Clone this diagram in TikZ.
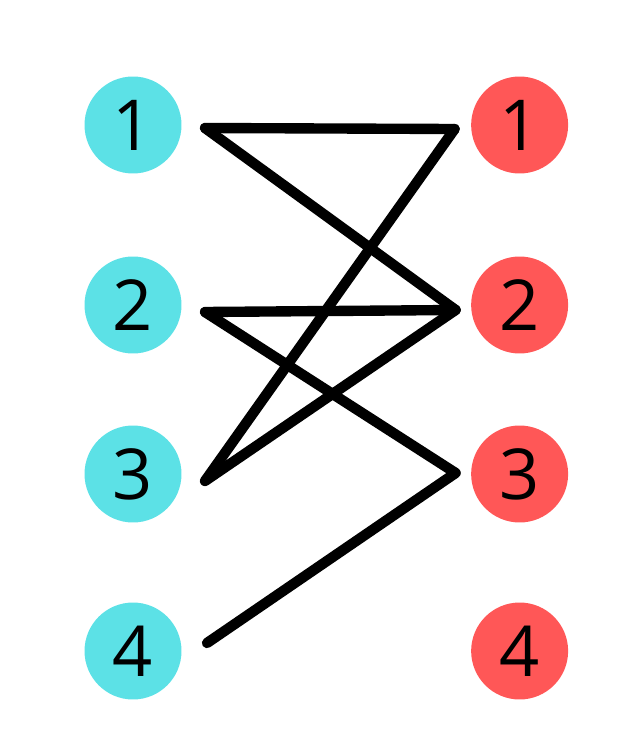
\documentclass[tikz,border=0pt]{standalone}
\usepackage{fontspec}
\setmainfont{Open Sans}
\usepackage{tikz}
\usetikzlibrary{positioning}
\definecolor{LeftColor}{HTML}{5CE1E6}
\definecolor{RightColor}{HTML}{FF5757}

\begin{document}
\begin{tikzpicture}[x=0.02cm, y=-0.02cm,
    vertex/.style={circle, minimum size=1.94cm, inner sep=0pt, font=\fontsize{40}{40}\selectfont},
    leftv/.style={vertex, fill=LeftColor},
    rightv/.style={vertex, fill=RightColor},
    edge/.style={line width=5.9pt, line cap=round, line join=round}]
  \useasboundingbox (0,0) rectangle (625,746);

  % left part
  \node[leftv] (a1) at (133,125) {1};
  \node[leftv] (a2) at (133,305) {2};
  \node[leftv] (a3) at (133,474) {3};
  \node[leftv] (a4) at (133,651) {4};

  % right part
  \node[rightv, right=5.78cm of a1] (b1) {1};
  \node[rightv, right=5.78cm of a2] (b2) {2};
  \node[rightv, right=5.78cm of a3] (b3) {3};
  \node[rightv, right=5.78cm of a4] (b4) {4};

  % edge ends
  \coordinate (a1o) at ([shift={(72,3)}]a1.center);
  \coordinate (a2o) at ([shift={(72,7)}]a2.center);
  \coordinate (a3o) at ([shift={(72,7)}]a3.center);
  \coordinate (a4o) at ([shift={(74,-8)}]a4.center);
  \coordinate (b1o) at ([shift={(-65,4)}]b1.center);
  \coordinate (b2o) at ([shift={(-64,5)}]b2.center);
  \coordinate (b3o) at ([shift={(-64,-1)}]b3.center);

  \draw[edge] (a1o) -- (b1o);
  \draw[edge] (a1o) -- (b2o);
  \draw[edge] (a2o) -- (b2o);
  \draw[edge] (a2o) -- (b3o);
  \draw[edge] (a3o) -- (b1o);
  \draw[edge] (a3o) -- (b2o);
  \draw[edge] (a4o) -- (b3o);
\end{tikzpicture}
\end{document}
